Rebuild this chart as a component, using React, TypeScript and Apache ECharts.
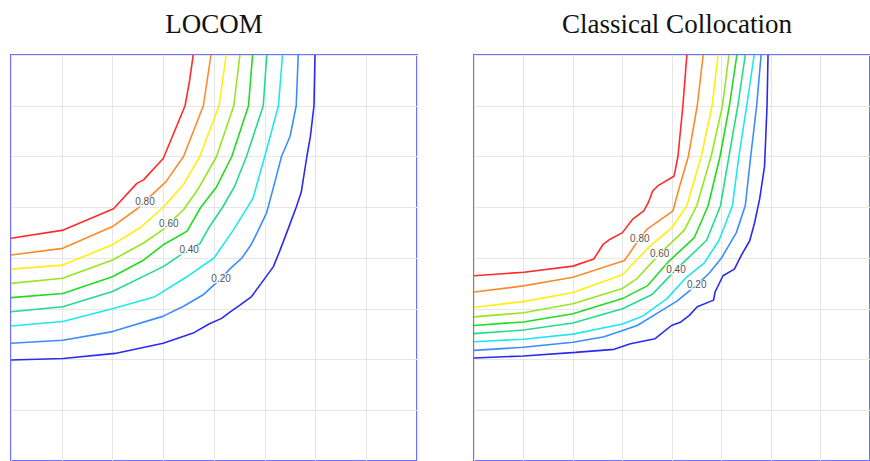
import React, { useEffect, useRef } from 'react';
import * as echarts from 'echarts';

// contour levels, highest (red) to lowest (blue)
const levels = [0.9, 0.8, 0.7, 0.6, 0.5, 0.4, 0.3, 0.2, 0.1];
const levelColors = ['#ff2a2a', '#ff8a2a', '#ffee10', '#96e620', '#20dc20', '#20dc8c', '#20e6f0', '#3a8cff', '#2a2af0'];
const panelTitles = ['LOCOM', 'Classical Collocation'];

// LOCOM panel contours: [x, y] with y measured downward from the top edge
const locom09 = [[3.59, 0], [3.52, 0.5], [3.43, 1.0], [3.0, 2.04], [2.61, 2.46], [2.48, 2.53], [2.02, 3.03], [1.03, 3.45], [0, 3.61]];
const locom08 = [[3.94, 0], [3.79, 1.0], [3.4, 2.0], [3.05, 2.5], [2.78, 2.75], [2.5, 3.02], [2.0, 3.38], [1.02, 3.81], [0, 3.94]];
const locom07 = [[4.24, 0], [4.1, 1.0], [3.72, 2.0], [3.4, 2.55], [3.0, 3.0], [2.55, 3.4], [2.0, 3.74], [1.02, 4.14], [0, 4.22]];
const locom06 = [[4.51, 0], [4.39, 1.0], [4.05, 2.0], [3.7, 2.62], [3.4, 3.05], [3.22, 3.22], [3.05, 3.4], [2.62, 3.7], [2.0, 4.04], [1.02, 4.4], [0, 4.5]];
const locom05 = [[4.76, 0], [4.68, 1.0], [4.35, 2.0], [4.05, 2.6], [3.74, 3.0], [3.47, 3.47], [3.0, 3.74], [2.6, 4.05], [2.0, 4.37], [1.02, 4.7], [0, 4.78]];
const locom04 = [[5.04, 0], [4.97, 1.0], [4.64, 2.0], [4.4, 2.6], [4.17, 3.0], [3.9, 3.4], [3.72, 3.72], [3.4, 3.9], [3.0, 4.17], [2.0, 4.66], [1.02, 4.96], [0, 5.06]];
const locom03 = [[5.35, 0], [5.27, 1.0], [5.0, 2.0], [4.77, 2.82], [4.38, 3.45], [4.0, 4.0], [3.45, 4.38], [2.82, 4.77], [2.0, 5.0], [1.02, 5.25], [0, 5.34]];
const locom02 = [[5.66, 0], [5.62, 1.0], [5.5, 1.6], [5.33, 2.0], [5.2, 2.5], [5.04, 3.1], [4.85, 3.5], [4.73, 3.74], [4.55, 4.0], [4.33, 4.2], [4.14, 4.4], [3.78, 4.73], [3.4, 4.95], [2.99, 5.15], [2.0, 5.45], [1.02, 5.62], [0, 5.68]];
const locom01 = [[5.99, 0], [5.97, 1.0], [5.9, 1.6], [5.83, 2.0], [5.72, 2.7], [5.62, 3.0], [5.43, 3.51], [5.3, 3.85], [5.17, 4.17], [4.93, 4.5], [4.74, 4.76], [4.51, 4.93], [4.32, 5.06], [4.15, 5.19], [3.9, 5.3], [3.59, 5.48], [3.0, 5.68], [2.05, 5.88], [1.03, 5.98], [0, 6.01]];

// Classical Collocation panel contours
const colloc09 = [[4.3, 0], [4.22, 1.0], [4.12, 2.0], [4.04, 2.39], [3.71, 2.58], [3.61, 2.68], [3.52, 2.91], [3.43, 3.07], [3.2, 3.24], [3.0, 3.5], [2.75, 3.63], [2.61, 3.73], [2.42, 4.02], [2.0, 4.16], [1.01, 4.28], [0, 4.35]];
const colloc08 = [[4.63, 0], [4.51, 1.0], [4.33, 2.0], [4.15, 2.6], [4.02, 3.07], [3.5, 3.43], [3.35, 3.61], [3.04, 4.05], [2.0, 4.38], [1.0, 4.55], [0, 4.67]];
const colloc07 = [[4.93, 0], [4.81, 1.0], [4.59, 2.0], [4.3, 2.97], [4.0, 3.4], [3.55, 3.77], [3.0, 4.33], [2.0, 4.68], [1.0, 4.86], [0, 4.97]];
const colloc06 = [[5.15, 0], [5.02, 1.0], [4.79, 2.0], [4.5, 2.97], [4.25, 3.45], [3.75, 3.92], [3.3, 4.4], [3.0, 4.6], [2.0, 4.9], [1.0, 5.08], [0, 5.16]];
const colloc05 = [[5.31, 0], [5.16, 1.0], [4.97, 2.0], [4.73, 2.97], [4.45, 3.6], [3.92, 4.08], [3.5, 4.55], [3.0, 4.8], [2.0, 5.1], [1.0, 5.26], [0, 5.33]];
const colloc04 = [[5.48, 0], [5.33, 1.0], [5.15, 2.0], [4.98, 2.97], [4.7, 3.65], [4.08, 4.23], [3.6, 4.72], [3.0, 5.0], [2.0, 5.28], [1.0, 5.42], [0, 5.49]];
const colloc03 = [[5.66, 0], [5.51, 1.0], [5.35, 2.0], [5.22, 2.97], [4.95, 3.65], [4.65, 4.1], [4.29, 4.38], [3.9, 4.8], [3.4, 5.15], [3.0, 5.3], [2.0, 5.5], [1.0, 5.6], [0, 5.65]];
const colloc02 = [[5.8, 0], [5.71, 1.0], [5.59, 2.0], [5.48, 2.97], [5.3, 3.5], [5.0, 4.0], [4.75, 4.3], [4.5, 4.53], [4.1, 4.85], [3.68, 5.1], [3.3, 5.33], [2.63, 5.55], [2.0, 5.66], [1.0, 5.76], [0, 5.82]];
const colloc01 = [[5.94, 0], [5.92, 1.0], [5.87, 2.19], [5.77, 2.84], [5.67, 3.3], [5.57, 3.66], [5.4, 3.95], [5.26, 4.22], [5.03, 4.35], [4.87, 4.67], [4.84, 4.83], [4.51, 4.96], [4.35, 5.13], [4.18, 5.26], [3.99, 5.33], [3.66, 5.59], [3.16, 5.69], [2.83, 5.8], [2.05, 5.86], [1.0, 5.93], [0, 5.97]];

// contour labels: [x, y, level]
const locomLabels = [[2.64, 2.89, 0.8], [3.11, 3.32, 0.6], [3.51, 3.84, 0.4], [4.14, 4.4, 0.2]];
const collocLabels = [[3.35, 3.61, 0.8], [3.75, 3.92, 0.6], [4.08, 4.23, 0.4], [4.5, 4.53, 0.2]];

const locomContours = [locom09, locom08, locom07, locom06, locom05, locom04, locom03, locom02, locom01];
const collocContours = [colloc09, colloc08, colloc07, colloc06, colloc05, colloc04, colloc03, colloc02, colloc01];

export default function App() {
  const ref = useRef<HTMLDivElement>(null);
  useEffect(() => {
    if (!ref.current) return;
    const chart = echarts.init(ref.current, null, { renderer: 'svg' });
    const W = 406;
    const H = 408;
    const panels = [
      { left: 11, contours: locomContours, labels: locomLabels, title: panelTitles[0] },
      { left: 474, contours: collocContours, labels: collocLabels, title: panelTitles[1] },
    ];
    const grid = panels.map((p) => ({
      left: p.left, top: 55, width: W, height: H,
      show: true, borderColor: '#7070ff', borderWidth: 2, backgroundColor: 'transparent',
    }));
    const axisCommon = {
      type: 'value' as const, min: 0, max: 8, interval: 1,
      axisLine: { show: false }, axisTick: { show: false }, axisLabel: { show: false },
      splitLine: { show: true, lineStyle: { color: '#e6e6e6', width: 1 } },
    };
    const xAxis = panels.map((_, i) => ({ ...axisCommon, gridIndex: i }));
    const yAxis = panels.map((_, i) => ({ ...axisCommon, gridIndex: i, inverse: true }));
    const series: any[] = [];
    panels.forEach((p, i) => {
      p.contours.forEach((c, k) => {
        series.push({
          type: 'line', xAxisIndex: i, yAxisIndex: i, data: c, showSymbol: false, symbol: 'none',
          silent: true, z: 2, name: String(levels[k]),
          lineStyle: { color: levelColors[k], width: 1.6 },
        });
      });
      series.push({
        type: 'scatter', xAxisIndex: i, yAxisIndex: i, data: p.labels, symbolSize: 1, z: 5, silent: true,
        itemStyle: { color: 'rgba(255,255,255,0)' },
        label: {
          show: true, position: 'inside',
          formatter: (d: any) => Number(d.value[2]).toFixed(2),
          fontFamily: 'Liberation Sans', fontSize: 10, color: '#222',
          backgroundColor: '#ffffff', padding: [0, 1],
        },
      });
    });
    const graphic = panels.map((p) => ({
      type: 'text', x: p.left + W / 2, y: 24,
      style: {
        text: p.title, textAlign: 'center', textVerticalAlign: 'middle', align: 'center', verticalAlign: 'middle',
        font: '27px "Liberation Serif"', fill: '#111',
      },
    }));
    chart.setOption({ animation: false, grid, xAxis, yAxis, series, graphic });
    return () => chart.dispose();
  }, []);
  return <div ref={ref} style={{ position: 'absolute', left: 0, top: 0, width: 870, height: 461 }} />;
}
